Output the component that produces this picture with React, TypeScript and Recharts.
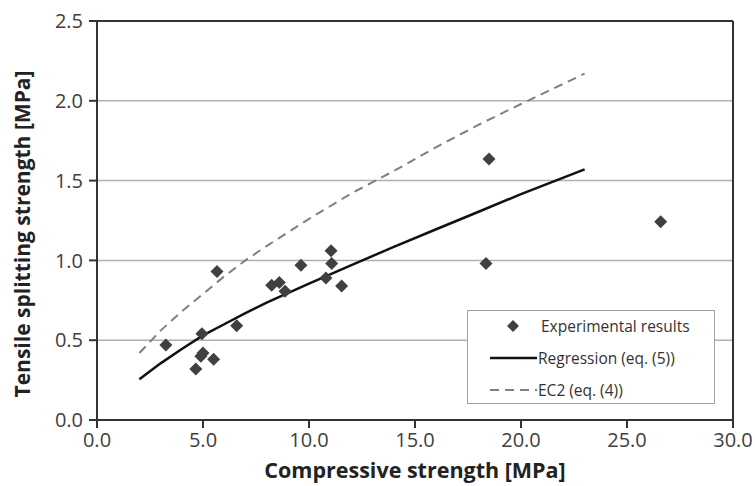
import React from "react";
import {
  ScatterChart,
  Scatter,
  XAxis,
  YAxis,
  CartesianGrid,
  ReferenceLine,
} from "recharts";

// Experimental results (compressive strength [MPa], tensile splitting strength [MPa])
const expX = [3.25, 4.66, 4.9, 5.0, 4.95, 5.5, 5.66, 6.59, 8.24, 8.6, 8.87, 9.62, 10.8, 11.04, 11.07, 11.54, 18.35, 18.49, 26.59];
const expY = [0.47, 0.32, 0.40, 0.42, 0.54, 0.38, 0.93, 0.59, 0.845, 0.862, 0.807, 0.97, 0.89, 1.06, 0.98, 0.84, 0.98, 1.635, 1.242];

// Regression (eq. (5)) curve
const regX = [2, 3, 4, 5, 6, 7, 8, 9, 10, 12, 14, 16, 18, 20, 23];
const regY = [0.255, 0.355, 0.445, 0.53, 0.6, 0.67, 0.735, 0.795, 0.855, 0.97, 1.085, 1.195, 1.305, 1.415, 1.57];

// EC2 (eq. (4)) curve
const ec2X = [2, 3, 4, 5, 6, 7, 8, 10, 12, 14, 16, 18, 20, 23];
const ec2Y = [0.42, 0.56, 0.68, 0.79, 0.9, 1.0, 1.09, 1.26, 1.42, 1.56, 1.71, 1.85, 1.98, 2.17];

const xTicks = [0, 5, 10, 15, 20, 25, 30];
const yTicks = [0, 0.5, 1.0, 1.5, 2.0, 2.5];

const xTitle = "Compressive strength [MPa]";
const yTitle = "Tensile splitting strength [MPa]";
const legendLabels = ["Experimental results", "Regression (eq. (5))", "EC2 (eq. (4))"];

const expData = expX.map((x, i) => ({ x, y: expY[i] }));
const regData = regX.map((x, i) => ({ x, y: regY[i] }));
const ec2Data = ec2X.map((x, i) => ({ x, y: ec2Y[i] }));

const FONT = "'Open Sans', sans-serif";
const MARK = "#404040";

const Diamond = (props: any) => {
  const { cx, cy } = props;
  if (cx == null || cy == null) return <g />;
  const r = 6.5;
  return (
    <polygon
      points={`${cx},${cy - r} ${cx + r},${cy} ${cx},${cy + r} ${cx - r},${cy}`}
      fill={MARK}
    />
  );
};

const NoShape = () => <g />;

const LegendBox = () => (
  <div
    style={{
      position: "absolute",
      left: 467,
      top: 310,
      width: 248,
      height: 94,
      boxSizing: "border-box",
      border: "1.5px solid #a0a0a0",
      background: "#fff",
    }}
  >
    <svg width={246} height={92} style={{ position: "absolute", left: 0, top: 0 }}>
      <polygon points="45,9 51,15 45,21 39,15" fill={MARK} />
      <line x1={22} y1={47} x2={69} y2={47} stroke="#111" strokeWidth={2.5} />
      <line x1={22} y1={79} x2={69} y2={79} stroke="#808080" strokeWidth={2} strokeDasharray="9 6" />
      <text x={73} y={15} dominantBaseline="central" fill="#333" fontSize={15.5} fontFamily={FONT}>
        {legendLabels[0]}
      </text>
      <text x={70} y={47} dominantBaseline="central" fill="#333" fontSize={15.5} fontFamily={FONT}>
        {legendLabels[1]}
      </text>
      <text x={70} y={79} dominantBaseline="central" fill="#333" fontSize={15.5} fontFamily={FONT}>
        {legendLabels[2]}
      </text>
    </svg>
  </div>
);

export default function App() {
  return (
    <div style={{ position: "absolute", left: 0, top: 0, width: 755, height: 486, background: "#fff" }}>
      <ScatterChart
        width={755}
        height={486}
        margin={{ top: 21, right: 22, bottom: 0, left: 0 }}
      >
        <CartesianGrid horizontal={true} vertical={false} stroke="#b0b0b0" strokeWidth={1.5} />
        <XAxis
          type="number"
          dataKey="x"
          domain={[0, 30]}
          ticks={xTicks}
          interval={0}
          height={66}
          tickSize={8}
          tickMargin={5}
          tickFormatter={(v: number) => v.toFixed(1)}
          tick={{ fill: "#404040", fontSize: 20, fontFamily: FONT }}
          axisLine={{ stroke: "#333", strokeWidth: 2 }}
          tickLine={{ stroke: "#333", strokeWidth: 2 }}
          allowDataOverflow
          label={{
            content: () => (
              <text
                x={415}
                y={478}
                textAnchor="middle"
                fontFamily={FONT}
                fontWeight="bold"
                fontSize={21.5}
                fill="#222"
              >
                {xTitle}
              </text>
            ),
          }}
        />
        <YAxis
          type="number"
          dataKey="y"
          domain={[0, 2.5]}
          ticks={yTicks}
          interval={0}
          width={97}
          tickSize={8}
          tickMargin={6}
          tickFormatter={(v: number) => v.toFixed(1)}
          tick={{ fill: "#404040", fontSize: 20, fontFamily: FONT }}
          axisLine={{ stroke: "#333", strokeWidth: 2 }}
          tickLine={{ stroke: "#333", strokeWidth: 2 }}
          allowDataOverflow
          label={{
            content: () => (
              <text
                x={22}
                y={234}
                transform="rotate(-90, 22, 234)"
                textAnchor="middle"
                dominantBaseline="central"
                fontFamily={FONT}
                fontWeight="bold"
                fontSize={21}
                fill="#222"
              >
                {yTitle}
              </text>
            ),
          }}
        />
        <ReferenceLine y={2.5} stroke="#333" strokeWidth={2} />
        <ReferenceLine x={30} stroke="#333" strokeWidth={2} />
        <Scatter
          data={ec2Data}
          shape={NoShape}
          line={{ stroke: "#808080", strokeWidth: 2, strokeDasharray: "9 6" }}
          lineType="joint"
          isAnimationActive={false}
        />
        <Scatter
          data={regData}
          shape={NoShape}
          line={{ stroke: "#111", strokeWidth: 2.5 }}
          lineType="joint"
          isAnimationActive={false}
        />
        <Scatter data={expData} shape={Diamond} fill={MARK} isAnimationActive={false} />
      </ScatterChart>
      <LegendBox />
    </div>
  );
}
